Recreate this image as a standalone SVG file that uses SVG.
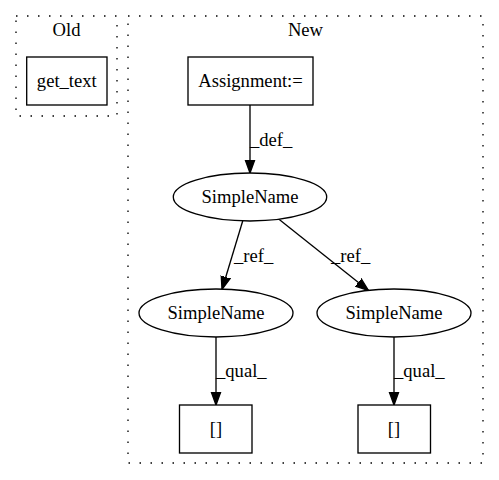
<svg xmlns="http://www.w3.org/2000/svg" width="499" height="480" viewBox="0 0 499 480">
<style>
text{font-family:"Liberation Serif","Times New Roman",serif;font-size:18.6px;fill:#000}
.c{text-anchor:middle}
.cl{fill:none;stroke:#000;stroke-width:1.33;stroke-dasharray:1.5,9.5}
.n{fill:#fff;stroke:#000;stroke-width:1.33}
.e{fill:none;stroke:#000;stroke-width:1.33}
</style>
<defs>
<marker id="ah" markerUnits="userSpaceOnUse" markerWidth="16" markerHeight="12" refX="13" refY="0" viewBox="0 -6 16 12" orient="auto">
<path d="M0,-4.7 L13,0 L0,4.7 z" fill="#000" stroke="#000" stroke-width="1.33"/>
</marker>
</defs>
<rect width="499" height="480" fill="#fff"/>
<g id="cluster_old">
<rect class="cl" x="16" y="16" width="101" height="100"/>
<text class="c" x="66.5" y="36">Old</text>
</g>
<g id="cluster_new">
<rect class="cl" x="128" y="16" width="355" height="447"/>
<text class="c" x="305.5" y="36">New</text>
</g>
<g id="connectors">
<line class="e" x1="250" y1="105" x2="250" y2="173" marker-end="url(#ah)"/>
<text x="250" y="146">_def_</text>
<line class="e" x1="243" y1="220" x2="222" y2="289.5" marker-end="url(#ah)"/>
<text x="234" y="262">_ref_</text>
<line class="e" x1="278" y1="218.5" x2="368.5" y2="290.5" marker-end="url(#ah)"/>
<text x="331" y="262">_ref_</text>
<line class="e" x1="216" y1="337" x2="216" y2="405" marker-end="url(#ah)"/>
<text x="216" y="377">_qual_</text>
<line class="e" x1="394" y1="337" x2="394" y2="405" marker-end="url(#ah)"/>
<text x="394" y="377">_qual_</text>
</g>
<g id="get_text">
<rect class="n" x="26.7" y="57" width="80.3" height="48"/>
<text class="c" x="66.8" y="87">get_text</text>
</g>
<g id="assignment">
<rect class="n" x="188" y="57" width="125" height="48"/>
<text class="c" x="250.5" y="87">Assignment:=</text>
</g>
<g id="simplename_top">
<ellipse class="n" cx="250" cy="197" rx="76.7" ry="24"/>
<text class="c" x="250" y="203">SimpleName</text>
</g>
<g id="simplename_left">
<ellipse class="n" cx="216" cy="313" rx="77" ry="24"/>
<text class="c" x="216" y="319">SimpleName</text>
</g>
<g id="simplename_right">
<ellipse class="n" cx="394" cy="313" rx="77" ry="24"/>
<text class="c" x="394" y="319">SimpleName</text>
</g>
<g id="index_left">
<rect class="n" x="179.5" y="405" width="72.5" height="48"/>
<text class="c" x="216" y="435">[]</text>
</g>
<g id="index_right">
<rect class="n" x="358" y="405" width="72.5" height="48"/>
<text class="c" x="394" y="435">[]</text>
</g>
</svg>
